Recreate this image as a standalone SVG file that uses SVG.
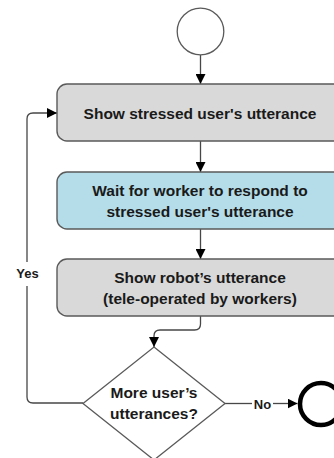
<svg xmlns="http://www.w3.org/2000/svg" width="334" height="458" viewBox="0 0 334 458">
  <style>
    .box { stroke: #5a5a5a; stroke-width: 1.4; }
    .gray { fill: #d9d9d9; }
    .blue { fill: #b4dde9; }
    .lbl { font-family: "Liberation Sans", Arial, sans-serif; font-weight: bold; font-size: 15.5px; fill: #1a1a1a; text-anchor: middle; }
    .edge { font-family: "Liberation Sans", Arial, sans-serif; font-weight: bold; font-size: 13px; fill: #1a1a1a; text-anchor: middle; }
    .wire { fill: none; stroke: #474747; stroke-width: 1.3; }
  </style>
  <defs>
    <marker id="arrow" viewBox="0 0 10 10" refX="10" refY="5" markerWidth="10" markerHeight="10" markerUnits="userSpaceOnUse" orient="auto">
      <path d="M0,0 L10,5 L0,10 z" fill="#000"/>
    </marker>
  </defs>

  <rect width="334" height="458" fill="#ffffff"/>

  <g id="connectors">
    <path class="wire" d="M200.5,55 V84" marker-end="url(#arrow)"/>
    <path class="wire" d="M200.5,141 V172" marker-end="url(#arrow)"/>
    <path class="wire" d="M200.5,229 V259" marker-end="url(#arrow)"/>
    <path class="wire" d="M200.5,316 V324 Q200.5,330 194.5,330 H160 Q154,330 154,336 V347" marker-end="url(#arrow)"/>
    <!-- Yes loop back to the first step -->
    <path class="wire" d="M83,403 H33 Q27,403 27,397 V286"/>
    <path class="wire" d="M27,262 V119 Q27,113 33,113 H57" marker-end="url(#arrow)"/>
    <text class="edge" x="27.5" y="278">Yes</text>
    <!-- No branch to the end node -->
    <path class="wire" d="M225,403.5 H252"/>
    <path class="wire" d="M273,403.5 H297.5" marker-end="url(#arrow)"/>
    <text class="edge" x="262.5" y="408.5">No</text>
  </g>

  <g id="start">
    <circle cx="200.5" cy="31.5" r="23.3" fill="#ffffff" stroke="#5a5a5a" stroke-width="1.3"/>
  </g>

  <g id="show-user">
    <rect class="box gray" x="57" y="84" width="290" height="57" rx="10"/>
    <text class="lbl" x="200" y="118.5">Show stressed user's utterance</text>
  </g>

  <g id="wait-worker">
    <rect class="box blue" x="57" y="172" width="290" height="57" rx="10"/>
    <text class="lbl" x="200" y="196">Wait for worker to respond to</text>
    <text class="lbl" x="200" y="217">stressed user's utterance</text>
  </g>

  <g id="show-robot">
    <rect class="box gray" x="57" y="259" width="290" height="57" rx="10"/>
    <text class="lbl" x="200" y="283">Show robot’s utterance</text>
    <text class="lbl" x="200" y="304">(tele-operated by workers)</text>
  </g>

  <g id="decision">
    <polygon points="154,347 225,403.5 154,460 83,403.5" fill="#ffffff" stroke="#5a5a5a" stroke-width="1.3"/>
    <text class="lbl" x="154" y="398">More user’s</text>
    <text class="lbl" x="154" y="419">utterances?</text>
  </g>

  <g id="end">
    <circle cx="321" cy="404" r="21" fill="#ffffff" stroke="#000000" stroke-width="4.5"/>
  </g>
</svg>
